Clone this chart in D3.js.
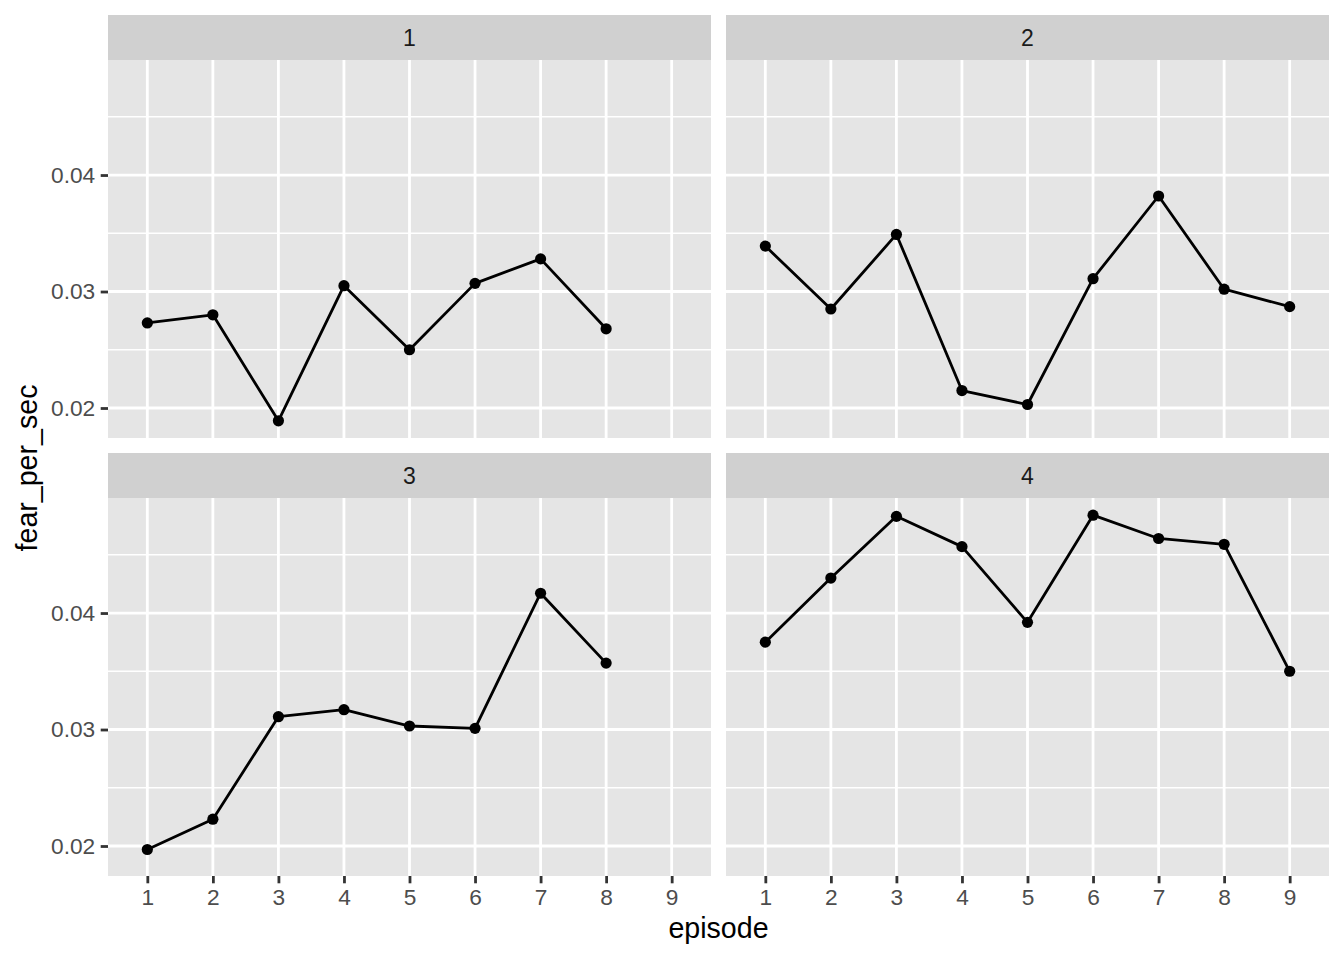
<!DOCTYPE html>
<html>
<head>
<meta charset="utf-8">
<script src="https://cdn.jsdelivr.net/npm/d3@7"></script>
<style>
  html, body { margin: 0; padding: 0; background: #ffffff; }
  svg { display: block; font-family: "Liberation Sans", Arial, Helvetica, sans-serif; }
</style>
</head>
<body>
<svg id="chart" width="1344" height="960"></svg>
<script>
// ---- data ----
const episodes = ["1", "2", "3", "4", "5", "6", "7", "8", "9"];
const facets = ["1", "2", "3", "4"];
const fear1 = [0.0273, 0.0280, 0.0189, 0.0305, 0.0250, 0.0307, 0.0328, 0.0268];
const fear2 = [0.0339, 0.0285, 0.0349, 0.0215, 0.0203, 0.0311, 0.0382, 0.0302, 0.0287];
const fear3 = [0.0197, 0.0223, 0.0311, 0.0317, 0.0303, 0.0301, 0.0417, 0.0357];
const fear4 = [0.0375, 0.0430, 0.0483, 0.0457, 0.0392, 0.0484, 0.0464, 0.0459, 0.0350];
const yTicks = [0.02, 0.03, 0.04];
const yMinor = [0.025, 0.035, 0.045];
const xTitle = "episode";
const yTitle = "fear_per_sec";

const series = [fear1, fear2, fear3, fear4];

// ---- layout ----
const svg = d3.select("#chart");
const colX = [108, 726];
const rowY = [15, 453];
const panelW = 603, panelH = 378, stripH = 45;
const PANEL_BG = "#E5E5E5", STRIP_BG = "#D0D0D0";

const x = d3.scalePoint().domain(episodes).range([0, panelW]).padding(0.6);
const allVals = series.flat();
const lo = d3.min(allVals), hi = d3.max(allVals), pad = (hi - lo) * 0.05;
const y = d3.scaleLinear().domain([lo - pad, hi + pad]).range([panelH, 0]);

facets.forEach((f, i) => {
  const col = i % 2, row = Math.floor(i / 2);
  const gx = colX[col], gy = rowY[row];
  const g = svg.append("g").attr("transform", `translate(${gx},${gy})`);

  // strip
  g.append("rect").attr("x", 0).attr("y", 0).attr("width", panelW).attr("height", stripH)
    .attr("fill", STRIP_BG);
  g.append("text").attr("x", panelW / 2).attr("y", stripH / 2).attr("dy", "0.36em")
    .attr("text-anchor", "middle").attr("font-size", 23).attr("fill", "#1A1A1A").text(f);

  const p = g.append("g").attr("transform", `translate(0,${stripH})`);
  p.append("rect").attr("width", panelW).attr("height", panelH).attr("fill", PANEL_BG);

  // minor grid
  p.selectAll("line.minor").data(yMinor.filter(v => y(v) >= 0 && y(v) <= panelH)).enter()
    .append("line").attr("x1", 0).attr("x2", panelW)
    .attr("y1", d => y(d)).attr("y2", d => y(d))
    .attr("stroke", "#ffffff").attr("stroke-width", 1.4);
  // major grid
  p.selectAll("line.majy").data(yTicks).enter()
    .append("line").attr("x1", 0).attr("x2", panelW)
    .attr("y1", d => y(d)).attr("y2", d => y(d))
    .attr("stroke", "#ffffff").attr("stroke-width", 2.8);
  p.selectAll("line.majx").data(episodes).enter()
    .append("line").attr("y1", 0).attr("y2", panelH)
    .attr("x1", d => x(d)).attr("x2", d => x(d))
    .attr("stroke", "#ffffff").attr("stroke-width", 2.8);

  // data
  const vals = series[i];
  const pts = vals.map((v, k) => ({ e: episodes[k], v }));
  const line = d3.line().x(d => x(d.e)).y(d => y(d.v));
  p.append("path").datum(pts).attr("d", line).attr("fill", "none")
    .attr("stroke", "#000").attr("stroke-width", 2.8).attr("stroke-linejoin", "round");
  p.selectAll("circle").data(pts).enter().append("circle")
    .attr("cx", d => x(d.e)).attr("cy", d => y(d.v)).attr("r", 5.6).attr("fill", "#000");

  // y axis on left column
  if (col === 0) {
    const ya = d3.axisLeft(y).tickValues(yTicks).tickFormat(d3.format(".2f"))
      .tickSize(7.3).tickPadding(5.5);
    const ag = p.append("g").call(ya);
    ag.select(".domain").remove();
    ag.selectAll(".tick line").attr("stroke", "#333333").attr("stroke-width", 2.8);
    ag.selectAll(".tick text").attr("fill", "#4D4D4D").attr("font-size", 22.7)
      .attr("font-family", "Liberation Sans, Arial, sans-serif");
  }
  // x axis on bottom row
  if (row === 1) {
    const xa = d3.axisBottom(x).tickSize(7.3).tickPadding(5.5);
    const ag = p.append("g").attr("transform", `translate(0,${panelH})`).call(xa);
    ag.select(".domain").remove();
    ag.selectAll(".tick line").attr("stroke", "#333333").attr("stroke-width", 2.8);
    ag.selectAll(".tick text").attr("fill", "#4D4D4D").attr("font-size", 22.7)
      .attr("font-family", "Liberation Sans, Arial, sans-serif");
  }
});

// axis titles
svg.append("text").attr("x", (colX[0] + colX[1] + panelW) / 2).attr("y", 938)
  .attr("text-anchor", "middle").attr("font-size", 28.6).attr("fill", "#000").text(xTitle);
svg.append("text").attr("transform", `translate(37,${(rowY[0] + stripH + rowY[1] + stripH + panelH) / 2}) rotate(-90)`)
  .attr("text-anchor", "middle").attr("font-size", 28.6).attr("fill", "#000").text(yTitle);
</script>
</body>
</html>
